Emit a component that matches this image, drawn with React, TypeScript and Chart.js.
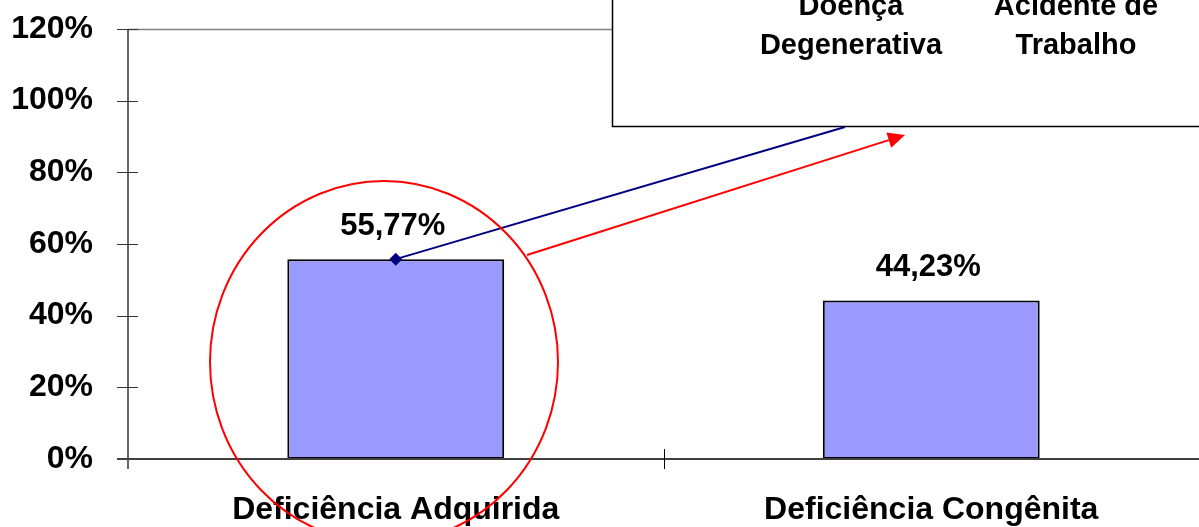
import React, { useEffect, useRef } from "react";
import { Chart, registerables } from "chart.js";

Chart.register(...registerables);

const categories = ["Deficiência Adquirida", "Deficiência Congênita"];
const values = [55.77, 44.23];
const valueLabels = ["55,77%", "44,23%"];
const yTickValues = [0, 20, 40, 60, 80, 100, 120];
const boxColumns = [
  ["Doença", "Degenerativa"],
  ["Acidente de", "Trabalho"],
];

const FONT = "'Liberation Sans', Arial, Helvetica, sans-serif";

// annotation layout (pixels)
const BOX = { left: 612, top: -2, bottom: 126, colX: [851, 1076], lineY: [7, 46] };
const ELLIPSE = { cx: 384, cy: 362, rx: 174, ry: 181 };
const BLUE_END_X = 845;
const RED_START = { x: 527, y: 255 };
const RED_END = { x: 905, y: 135 };

const overlayPlugin = {
  id: "overlay",
  beforeDatasetsDraw(chart: any) {
    const ctx = chart.ctx;
    const ca = chart.chartArea;
    const y = chart.scales.y;
    ctx.save();
    ctx.strokeStyle = "#808080";
    ctx.lineWidth = 1.5;
    const yt = Math.round(y.getPixelForValue(120)) + 0.5;
    ctx.beginPath();
    ctx.moveTo(ca.left, yt);
    ctx.lineTo(ca.right, yt);
    ctx.stroke();
    ctx.restore();
  },
  afterDatasetsDraw(chart: any) {
    const ctx = chart.ctx;
    const ca = chart.chartArea;
    const ys = chart.scales.y;
    ctx.save();
    // axes
    ctx.strokeStyle = "#333333";
    ctx.lineWidth = 1.5;
    ctx.beginPath();
    ctx.moveTo(ca.left, ys.getPixelForValue(120));
    ctx.lineTo(ca.left, ca.bottom + 10);
    ctx.stroke();
    ctx.lineWidth = 1;
    for (const v of yTickValues) {
      const py = Math.round(ys.getPixelForValue(v)) + 0.5;
      ctx.beginPath();
      ctx.moveTo(ca.left - 11, py);
      ctx.lineTo(ca.left + 10, py);
      ctx.stroke();
    }
    ctx.lineWidth = 2;
    ctx.strokeStyle = "#404040";
    ctx.beginPath();
    ctx.moveTo(ca.left - 11, ca.bottom);
    ctx.lineTo(ca.right, ca.bottom);
    ctx.stroke();
    ctx.lineWidth = 1;
    ctx.strokeStyle = "#000";
    const n = categories.length;
    for (let i = 1; i <= n; i++) {
      const px = Math.round(ca.left + ((ca.right - ca.left) * i) / n) + 0.5;
      ctx.beginPath();
      ctx.moveTo(px, ca.bottom - 10);
      ctx.lineTo(px, ca.bottom + 10);
      ctx.stroke();
    }
    // value labels
    const meta = chart.getDatasetMeta(0);
    ctx.fillStyle = "#000";
    ctx.font = `bold 31px ${FONT}`;
    ctx.textAlign = "center";
    ctx.textBaseline = "middle";
    meta.data.forEach((bar: any, i: number) => {
      ctx.fillText(valueLabels[i], bar.x - 3, bar.y - 33);
    });
    ctx.restore();
  },
  afterDraw(chart: any) {
    const ctx = chart.ctx;
    const xs = chart.scales.x;
    const ys = chart.scales.y;
    ctx.save();
    // box
    ctx.fillStyle = "#ffffff";
    ctx.fillRect(BOX.left, BOX.top, chart.width - BOX.left + 10, BOX.bottom - BOX.top);
    ctx.strokeStyle = "#000";
    ctx.lineWidth = 1.5;
    ctx.strokeRect(BOX.left + 0.5, BOX.top, chart.width - BOX.left + 10, BOX.bottom - BOX.top + 0.5);
    ctx.fillStyle = "#000";
    ctx.font = `bold 29px ${FONT}`;
    ctx.textAlign = "center";
    ctx.textBaseline = "middle";
    boxColumns.forEach((col, ci) => {
      col.forEach((t, li) => ctx.fillText(t, BOX.colX[ci], BOX.lineY[li]));
    });
    // blue line
    const px = xs.getPixelForValue(0);
    const py = ys.getPixelForValue(values[0]);
    ctx.strokeStyle = "#000080";
    ctx.lineWidth = 2;
    ctx.beginPath();
    ctx.moveTo(px, py);
    ctx.lineTo(BLUE_END_X, BOX.bottom + 1);
    ctx.stroke();
    // diamond
    ctx.fillStyle = "#000080";
    ctx.beginPath();
    ctx.moveTo(px, py - 6.5);
    ctx.lineTo(px + 6.5, py);
    ctx.lineTo(px, py + 6.5);
    ctx.lineTo(px - 6.5, py);
    ctx.closePath();
    ctx.fill();
    // red arrow
    const ang = Math.atan2(RED_END.y - RED_START.y, RED_END.x - RED_START.x);
    const hl = 17, hw = 8;
    const bx = RED_END.x - hl * Math.cos(ang);
    const by = RED_END.y - hl * Math.sin(ang);
    ctx.strokeStyle = "#ff0000";
    ctx.fillStyle = "#ff0000";
    ctx.lineWidth = 2;
    ctx.beginPath();
    ctx.moveTo(RED_START.x, RED_START.y);
    ctx.lineTo(bx, by);
    ctx.stroke();
    ctx.beginPath();
    ctx.moveTo(RED_END.x, RED_END.y);
    ctx.lineTo(bx + hw * Math.sin(ang), by - hw * Math.cos(ang));
    ctx.lineTo(bx - hw * Math.sin(ang), by + hw * Math.cos(ang));
    ctx.closePath();
    ctx.fill();
    // ellipse
    ctx.lineWidth = 2;
    ctx.beginPath();
    ctx.ellipse(ELLIPSE.cx, ELLIPSE.cy, ELLIPSE.rx, ELLIPSE.ry, 0, 0, Math.PI * 2);
    ctx.stroke();
    ctx.restore();
  },
};

export default function App() {
  const ref = useRef<HTMLCanvasElement>(null);
  useEffect(() => {
    document.body.style.margin = "0";
    document.body.style.overflow = "hidden";
    const chart = new Chart(ref.current!, {
      type: "bar",
      data: {
        labels: categories,
        datasets: [
          {
            data: values,
            backgroundColor: "#9999FF",
            borderColor: "#000000",
            borderWidth: 2,
            borderSkipped: false,
            barPercentage: 0.405,
            categoryPercentage: 1,
          },
        ],
      },
      options: {
        responsive: false,
        animation: false,
        layout: { padding: { top: 29, left: 0, right: 0, bottom: 0 } },
        plugins: { legend: { display: false }, tooltip: { enabled: false } },
        scales: {
          x: {
            grid: { display: false },
            border: { display: false },
            ticks: {
              color: "#000",
              font: { family: FONT, size: 32, weight: "bold" },
              padding: 24,
              maxRotation: 0,
            },
            afterFit: (s: any) => {
              s.height = 68;
              s.paddingLeft = 0;
              s.paddingRight = 0;
            },
          },
          y: {
            min: 0,
            max: 120,
            grid: { display: false },
            border: { display: false },
            afterBuildTicks: (s: any) => {
              s.ticks = yTickValues.map((v) => ({ value: v }));
            },
            ticks: {
              color: "#000",
              font: { family: FONT, size: 32, weight: "bold" },
              padding: 27,
              callback: (v: any) => `${v}%`,
            },
            afterFit: (s: any) => {
              s.width = 128;
              s.paddingTop = 0;
              s.paddingBottom = 0;
            },
          },
        },
      },
      plugins: [overlayPlugin],
    });
    return () => chart.destroy();
  }, []);
  return (
    <div style={{ position: "absolute", left: 0, top: 0, width: 1199, height: 527 }}>
      <canvas ref={ref} width={1199} height={527} />
    </div>
  );
}
